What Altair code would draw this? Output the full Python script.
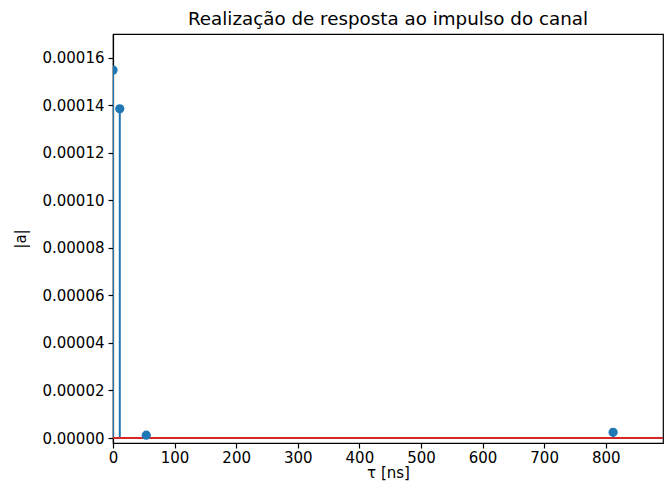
import altair as alt
import pandas as pd

tau = [0, 11, 54, 812]
amp = [0.0001548, 0.0001385, 0.0000012, 0.0000024]
x_ticks = [0, 100, 200, 300, 400, 500, 600, 700, 800]
y_ticks = [0.0, 0.00002, 0.00004, 0.00006, 0.00008, 0.00010, 0.00012, 0.00014, 0.00016]

df = pd.DataFrame({"tau": tau, "amp": amp, "zero": [0.0] * len(tau)})
base_df = pd.DataFrame({"x0": [0], "x1": [893], "y": [0.0]})

FONT = "DejaVu Sans"
xscale = alt.Scale(domain=[0, 893], nice=False, zero=False)
yscale = alt.Scale(domain=[-0.0000021, 0.00017], nice=False, zero=False)

xaxis = alt.Axis(values=x_ticks, format="d", title="τ [ns]", grid=False,
                 tickSize=5, labelPadding=2, titlePadding=0, labelFlush=False)
yaxis = alt.Axis(values=y_ticks, format=".5f", title="|a|", grid=False,
                 tickSize=5, labelPadding=4, titlePadding=13, labelFlush=False)

stems = alt.Chart(df).mark_rule(color="#1f77b4", strokeWidth=2, clip=True).encode(
    x=alt.X("tau:Q", scale=xscale, axis=xaxis),
    y=alt.Y("zero:Q", scale=yscale, axis=yaxis),
    y2="amp:Q",
)

baseline = alt.Chart(base_df).mark_rule(color="#d62728", strokeWidth=2, clip=True).encode(
    x=alt.X("x0:Q", scale=xscale),
    x2="x1:Q",
    y=alt.Y("y:Q", scale=yscale),
)

points = alt.Chart(df).mark_circle(color="#1f77b4", opacity=1, size=85, clip=True).encode(
    x=alt.X("tau:Q", scale=xscale),
    y=alt.Y("amp:Q", scale=yscale),
)

chart = alt.layer(stems, baseline, points).properties(
    width=550,
    height=409,
    background="white",
    title=alt.TitleParams("Realização de resposta ao impulso do canal", fontSize=18.3,
                          font=FONT, fontWeight="normal", color="black", offset=5,
                          anchor="middle"),
    autosize=alt.AutoSizeParams(type="none"),
    padding={"left": 105, "top": 26, "right": 1, "bottom": 42},
).configure_view(
    stroke="black", strokeWidth=1.2
).configure_axis(
    labelFont=FONT, titleFont=FONT, labelFontSize=15, titleFontSize=15,
    titleFontWeight="normal", labelColor="black", titleColor="black",
    tickColor="black", domainColor="black", domainWidth=1.2, tickWidth=1.2,
)

chart.save("out.html", embed_options={"renderer": "svg", "actions": False})
